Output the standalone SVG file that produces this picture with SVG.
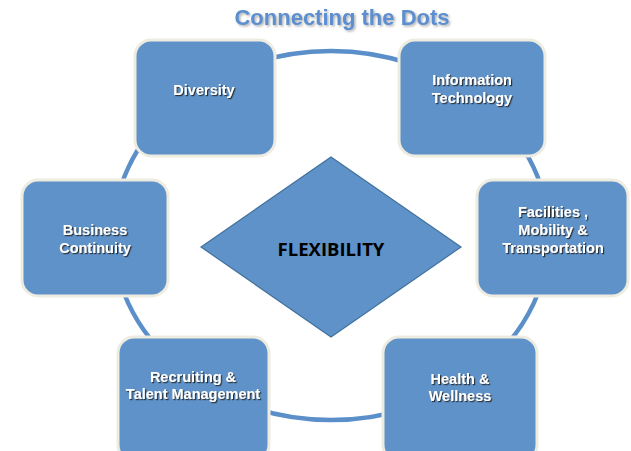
<svg xmlns="http://www.w3.org/2000/svg" width="631" height="451" viewBox="0 0 631 451">
  <defs>
    <filter id="txtShadow" x="-20%" y="-40%" width="140%" height="180%">
      <feDropShadow dx="1.2" dy="1.2" stdDeviation="0.6" flood-color="#1a1a1a" flood-opacity="0.85"/>
    </filter>
    <filter id="titleShadow" x="-10%" y="-40%" width="120%" height="180%">
      <feDropShadow dx="1.5" dy="1.5" stdDeviation="1.2" flood-color="#7a7a7a" flood-opacity="0.6"/>
    </filter>
  </defs>
  <style>
    .box { fill: #5f92c8; stroke: #eeece1; stroke-width: 3; }
    .lbl { font-family: "Liberation Sans", Arial, sans-serif; font-weight: bold; font-size: 14.5px; fill: #ffffff; text-anchor: middle; filter: url(#txtShadow); }
    .ring { fill: none; stroke: #5b8fc9; stroke-width: 4.5; }
    .title { font-family: "Liberation Sans", Arial, sans-serif; font-weight: bold; font-size: 22px; fill: #5b8fd0; text-anchor: middle; filter: url(#titleShadow); }
    .core { fill: #5f92c8; stroke: #41719c; stroke-width: 1.2; }
    .coreTxt { font-family: "Open Sans", "Liberation Sans", sans-serif; font-weight: bold; font-size: 18.5px; fill: #000000; text-anchor: middle; }
  </style>

  <rect width="631" height="451" fill="#ffffff"/>

  <text class="title" x="342" y="25">Connecting the Dots</text>

  <!-- ring linking the six areas -->
  <g id="connectors">
    <ellipse class="ring" cx="331" cy="235.5" rx="218" ry="184.5"/>
  </g>

  <g id="core">
    <polygon class="core" points="331,157 461,247 331,337 201,247"/>
    <text class="coreTxt" x="331" y="256">FLEXIBILITY</text>
  </g>

  <g id="diversity">
    <rect class="box" x="135" y="40" width="140" height="116" rx="16"/>
    <text class="lbl" x="204" y="95">Diversity</text>
  </g>

  <g id="it">
    <rect class="box" x="399" y="40" width="146" height="116" rx="16"/>
    <text class="lbl" x="472" y="85">Information</text>
    <text class="lbl" x="472" y="103">Technology</text>
  </g>

  <g id="continuity">
    <rect class="box" x="22" y="180" width="146" height="116" rx="16"/>
    <text class="lbl" x="95" y="235">Business</text>
    <text class="lbl" x="95" y="253">Continuity</text>
  </g>

  <g id="facilities">
    <rect class="box" x="477" y="180" width="151" height="116" rx="16"/>
    <text class="lbl" x="553" y="217">Facilities ,</text>
    <text class="lbl" x="553" y="235">Mobility &amp;</text>
    <text class="lbl" x="553" y="253">Transportation</text>
  </g>

  <g id="recruiting">
    <rect class="box" x="118" y="337" width="151" height="124" rx="16"/>
    <text class="lbl" x="193" y="382">Recruiting &amp;</text>
    <text class="lbl" x="193" y="399">Talent Management</text>
  </g>

  <g id="health">
    <rect class="box" x="383" y="337" width="154" height="124" rx="16"/>
    <text class="lbl" x="460" y="384">Health &amp;</text>
    <text class="lbl" x="460" y="401">Wellness</text>
  </g>
</svg>
